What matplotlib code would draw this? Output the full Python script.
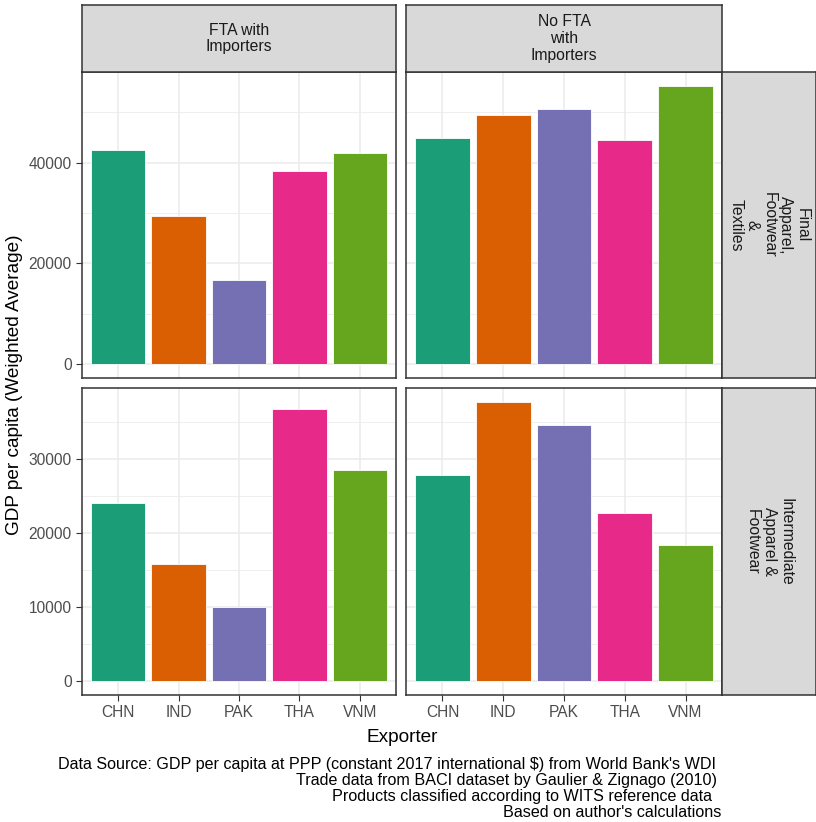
import matplotlib
matplotlib.use("Agg")
import matplotlib.pyplot as plt
from matplotlib.ticker import MultipleLocator

plt.rcParams['font.family'] = ['Liberation Sans', 'DejaVu Sans']

exporters = ["CHN", "IND", "PAK", "THA", "VNM"]
col_labels = ["FTA with\nImporters", "No FTA\nwith\nImporters"]
row_labels = ["Final\nApparel,\nFootwear\n&\nTextiles", "Intermediate\nApparel &\nFootwear"]

final_fta = [42500, 29400, 16650, 38350, 41850]
final_nofta = [44950, 49450, 50750, 44600, 55250]
inter_fta = [24050, 15850, 9950, 36700, 28500]
inter_nofta = [27800, 37700, 34650, 22650, 18400]

colors = ["#1B9E77", "#D95F02", "#7570B3", "#E7298A", "#66A61E"]

ylabel = "GDP per capita (Weighted Average)"
xlabel = "Exporter"
caption_lines = [
    "Data Source: GDP per capita at PPP (constant 2017 international $) from World Bank's WDI ",
    "Trade data from BACI dataset by Gaulier & Zignago (2010) ",
    "Products classified according to WITS reference data  ",
    "Based on author's calculations",
]

W, H = 816, 822
fig = plt.figure(figsize=(W / 100, H / 100), dpi=100)


def rect(x0, y0, x1, y1):
    return [x0 / W, 1 - y1 / H, (x1 - x0) / W, (y1 - y0) / H]


cols_x = [(82, 396), (406, 722)]
rows_y = [(72, 378), (388, 695)]
data = [[final_fta, final_nofta], [inter_fta, inter_nofta]]
major_step = [20000, 10000]
minor_step = [10000, 5000]

TICK_COL = "#4D4D4D"
BORDER = "#333333"
STRIP_FS = 11.3
STRIP_LS = 1.13

for r in range(2):
    vals_row = data[r][0] + data[r][1]
    vmax = max(vals_row)
    ylim = (-0.05 * vmax, vmax * 1.05)
    for c in range(2):
        x0, x1 = cols_x[c]
        y0, y1 = rows_y[r]
        ax = fig.add_axes(rect(x0, y0, x1, y1))
        vals = data[r][c]
        xs = list(range(len(exporters)))
        ax.bar(xs, vals, width=0.9, color=colors, edgecolor="white", linewidth=0.6, zorder=3)
        ax.set_xlim(-0.6, len(exporters) - 0.4)
        ax.set_ylim(*ylim)
        ax.set_xticks(xs)
        ax.yaxis.set_major_locator(MultipleLocator(major_step[r]))
        ax.yaxis.set_minor_locator(MultipleLocator(minor_step[r]))
        ax.grid(True, which="major", color="#EBEBEB", linewidth=1.1, zorder=0)
        ax.grid(True, which="minor", axis="y", color="#EBEBEB", linewidth=0.55, zorder=0)
        ax.set_axisbelow(True)
        for s in ax.spines.values():
            s.set_color(BORDER)
            s.set_linewidth(1.1)
        ax.tick_params(which="minor", length=0)
        ax.tick_params(which="major", length=4.5, width=0.8, color=BORDER,
                       labelcolor=TICK_COL, labelsize=11.2, pad=3)
        if c == 0:
            ax.set_yticklabels([f"{int(t)}" for t in ax.get_yticks()])
        else:
            ax.tick_params(axis="y", which="major", length=0, labelleft=False)
        if r == 1:
            ax.set_xticklabels(exporters)
        else:
            ax.tick_params(axis="x", which="major", length=0, labelbottom=False)

        if r == 0:
            sax = fig.add_axes(rect(x0, 5, x1, 72))
            sax.set_facecolor("#D9D9D9")
            sax.set_xticks([]); sax.set_yticks([])
            for s in sax.spines.values():
                s.set_color(BORDER); s.set_linewidth(1.1)
            sax.text(0.5, 0.5, col_labels[c], ha="center", va="center",
                     fontsize=STRIP_FS, color="#1A1A1A", transform=sax.transAxes,
                     linespacing=STRIP_LS)
    y0, y1 = rows_y[r]
    sax = fig.add_axes(rect(722, y0, 816, y1))
    sax.set_facecolor("#D9D9D9")
    sax.set_xticks([]); sax.set_yticks([])
    for s in sax.spines.values():
        s.set_color(BORDER); s.set_linewidth(1.1)
    sax.text(0.5, 0.5, row_labels[r], ha="center", va="center", rotation=-90,
             fontsize=STRIP_FS, color="#1A1A1A", transform=sax.transAxes,
             linespacing=STRIP_LS, multialignment="center")

fig.text(15 / W, 1 - 385 / H, ylabel, rotation=90, ha="center", va="center",
         fontsize=13.7, color="black")
fig.text(402 / W, 1 - 737 / H, xlabel, ha="center", va="center",
         fontsize=13.7, color="black")

for i, line in enumerate(caption_lines):
    fig.text(721 / W, 1 - (764 + 16.0 * i) / H, line, ha="right", va="center",
             fontsize=11.6, color="black")

fig.savefig("out.png", dpi=100, facecolor="white")
